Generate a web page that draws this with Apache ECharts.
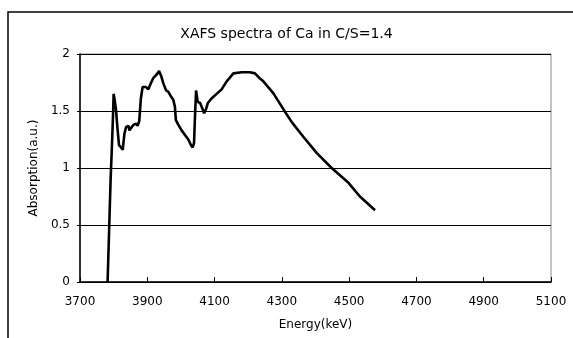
<!DOCTYPE html>
<html>
<head>
<meta charset="utf-8">
<script src="https://cdn.jsdelivr.net/npm/echarts@6/dist/echarts.min.js"></script>
<style>
  html, body { margin: 0; padding: 0; background: #fff; }
  #chart { width: 573px; height: 338px; }
</style>
</head>
<body>
<div id="chart"></div>
<script>
// energy (keV) and absorption
const energy = [
  3782, 3787, 3791, 3795, 3798, 3800, 3803, 3807, 3811, 3816,
  3822, 3827, 3832, 3837, 3844, 3847, 3854, 3860, 3866, 3871,
  3876, 3878, 3881, 3886, 3890, 3896, 3903, 3910, 3918, 3928,
  3935, 3941, 3948, 3956, 3962, 3970, 3977, 3982, 3985, 3992,
  4002, 4012, 4022, 4030, 4035, 4039, 4041, 4043, 4045, 4048,
  4050, 4057, 4064, 4069, 4075, 4080, 4091, 4106, 4121, 4136,
  4156, 4181, 4205, 4220, 4233, 4245, 4275, 4310, 4330, 4365,
  4404, 4448, 4498, 4532, 4577
]
const absorption = [
  0, 0.5, 0.9, 1.2, 1.45, 1.65, 1.6, 1.51, 1.36, 1.2,
  1.18, 1.16, 1.3, 1.36, 1.37, 1.33, 1.36, 1.38, 1.39, 1.37,
  1.41, 1.49, 1.61, 1.71, 1.72, 1.71, 1.69, 1.74, 1.79, 1.82,
  1.85, 1.81, 1.74, 1.68, 1.67, 1.63, 1.6, 1.54, 1.42, 1.38,
  1.33, 1.29, 1.25, 1.2, 1.18, 1.22, 1.39, 1.54, 1.68, 1.67,
  1.58, 1.57, 1.52, 1.48, 1.52, 1.57, 1.61, 1.65, 1.69, 1.76,
  1.83, 1.84, 1.84, 1.83, 1.79, 1.76, 1.655, 1.49, 1.4, 1.27,
  1.13, 1.0, 0.87, 0.75, 0.63
]

const titleText = 'XAFS spectra of Ca in C/S=1.4'
const xName = 'Energy(keV)'
const yName = 'Absorption(a.u.)'

const font = '"DejaVu Sans", sans-serif'

const chart = echarts.init(document.getElementById('chart'))
chart.setOption({
  animation: false,
  backgroundColor: '#fff',
  textStyle: { fontFamily: font },
  title: {
    text: titleText,
    left: 'center',
    top: 22,
    textStyle: { fontSize: 14, fontWeight: 'normal', color: '#000', fontFamily: font }
  },
  graphic: [
    {
      type: 'rect',
      shape: { x: 8, y: 12, width: 600, height: 400 },
      style: { fill: 'none', stroke: '#000', lineWidth: 1.5 },
      silent: true
    }
  ],
  grid: {
    left: 80,
    right: 22,
    top: 54,
    bottom: 56,
    show: true,
    borderColor: '#888',
    borderWidth: 1
  },
  xAxis: {
    type: 'value',
    min: 3700,
    max: 5100,
    interval: 200,
    name: xName,
    nameLocation: 'middle',
    nameGap: 37,
    nameTextStyle: { fontSize: 12, color: '#000' },
    axisLine: { onZero: false, lineStyle: { color: '#000', width: 1.5 } },
    axisTick: { inside: true, length: 5, lineStyle: { color: '#000' } },
    axisLabel: { fontSize: 12, color: '#000', margin: 14, formatter: v => String(v) },
    splitLine: { show: false }
  },
  yAxis: {
    type: 'value',
    min: 0,
    max: 2,
    interval: 0.5,
    name: yName,
    nameLocation: 'middle',
    nameGap: 40,
    nameRotate: 90,
    nameTextStyle: { fontSize: 12, color: '#000' },
    axisLine: { show: true, lineStyle: { color: '#000', width: 1.5 } },
    axisTick: { show: true, length: 3, lineStyle: { color: '#000' } },
    axisLabel: { fontSize: 12, color: '#000', margin: 10 },
    splitLine: { show: true, lineStyle: { color: '#000', width: 1 } }
  },
  series: [
    {
      type: 'line',
      data: energy.map((e, i) => [e, absorption[i]]),
      showSymbol: false,
      lineStyle: { color: '#000', width: 2.6 },
      z: 3
    }
  ]
})
</script>
</body>
</html>
